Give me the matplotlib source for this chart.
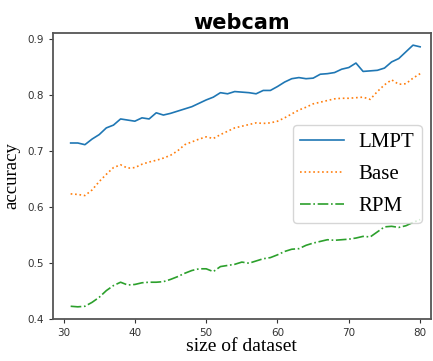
import matplotlib
matplotlib.use("Agg")
import matplotlib.pyplot as plt

sizes = list(range(31, 81))
lmpt = [0.714, 0.714, 0.711, 0.721, 0.729, 0.741, 0.746, 0.757, 0.755, 0.753,
        0.759, 0.757, 0.768, 0.764, 0.767, 0.771, 0.775, 0.779, 0.785, 0.791,
        0.796, 0.804, 0.802, 0.806, 0.805, 0.804, 0.802, 0.808, 0.808, 0.815,
        0.823, 0.829, 0.831, 0.829, 0.830, 0.837, 0.838, 0.840, 0.846, 0.849,
        0.857, 0.842, 0.843, 0.844, 0.848, 0.859, 0.865, 0.877, 0.889, 0.886]
base = [0.623, 0.622, 0.620, 0.630, 0.645, 0.658, 0.670, 0.675, 0.669, 0.670,
        0.676, 0.680, 0.683, 0.687, 0.692, 0.700, 0.711, 0.716, 0.721, 0.725,
        0.722, 0.729, 0.735, 0.741, 0.744, 0.747, 0.750, 0.749, 0.750, 0.753,
        0.759, 0.766, 0.773, 0.778, 0.784, 0.787, 0.790, 0.793, 0.794, 0.794,
        0.795, 0.796, 0.792, 0.806, 0.818, 0.827, 0.819, 0.820, 0.830, 0.838]
rpm = [0.422, 0.421, 0.422, 0.429, 0.438, 0.450, 0.459, 0.465, 0.460, 0.461,
       0.464, 0.465, 0.465, 0.466, 0.470, 0.475, 0.481, 0.486, 0.489, 0.489,
       0.484, 0.493, 0.495, 0.497, 0.501, 0.499, 0.503, 0.507, 0.509, 0.514,
       0.520, 0.524, 0.525, 0.531, 0.535, 0.538, 0.541, 0.540, 0.541, 0.542,
       0.544, 0.547, 0.546, 0.555, 0.564, 0.565, 0.563, 0.566, 0.572, 0.577]
xticks = [30, 40, 50, 60, 70, 80]
yticks = [0.4, 0.5, 0.6, 0.7, 0.8, 0.9]

fig = plt.figure(figsize=(4.33, 3.61), dpi=100)
ax = fig.add_axes([0.122, 0.116, 0.873, 0.793])

ax.plot(sizes, lmpt, color="#1f77b4", lw=1.2, ls="-", label="LMPT")
ax.plot(sizes, base, color="#ff7f0e", lw=1.2, ls=":", label="Base")
ax.plot(sizes, rpm, color="#2ca02c", lw=1.2, ls="-.", label="RPM")

ax.set_xlim(28.5, 81.5)
ax.set_ylim(0.399, 0.911)
ax.set_xticks(xticks)
ax.set_yticks(yticks)
ax.set_yticklabels([f"{v:.1f}" for v in yticks])
ax.tick_params(labelsize=7.5, colors="#333333", length=3)
for s in ax.spines.values():
    s.set_color("#555555")
    s.set_linewidth(1.3)

ax.set_title("webcam", fontsize=15, fontweight="bold", pad=3)
ax.set_xlabel("size of dataset", family="Liberation Serif", fontsize=14, labelpad=0)
ax.set_ylabel("accuracy", family="Liberation Serif", fontsize=13.5, labelpad=5)

ax.legend(loc="upper left", bbox_to_anchor=(0.635, 0.678), borderaxespad=0,
          prop={"family": "Liberation Serif", "size": 15},
          handlelength=2.1, handletextpad=0.7, borderpad=0.35, labelspacing=0.6)

fig.savefig("out.png", dpi=100)
